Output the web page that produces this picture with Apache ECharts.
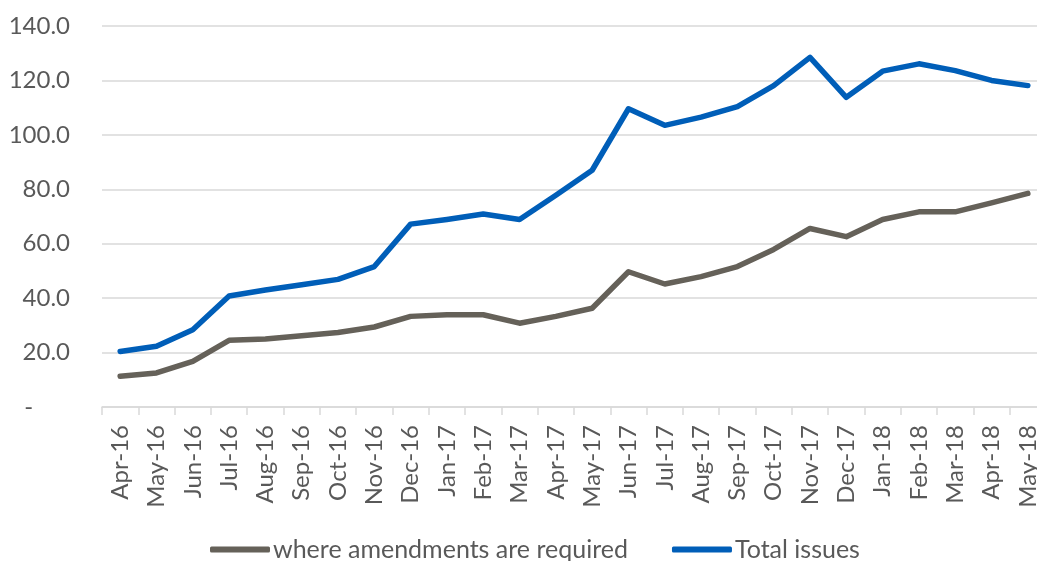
<!DOCTYPE html>
<html>
<head>
<meta charset="utf-8">
<script src="https://cdn.jsdelivr.net/npm/echarts@6/dist/echarts.min.js"></script>
<style>html,body{margin:0;padding:0;background:#fff;overflow:hidden;width:1037px;height:561px}#c{width:1046px;height:561px}</style>
</head>
<body>
<div id="c"></div>
<script>
const categories = ['Apr-16','May-16','Jun-16','Jul-16','Aug-16','Sep-16','Oct-16','Nov-16','Dec-16','Jan-17','Feb-17','Mar-17','Apr-17','May-17','Jun-17','Jul-17','Aug-17','Sep-17','Oct-17','Nov-17','Dec-17','Jan-18','Feb-18','Mar-18','Apr-18','May-18'];
const amendments = [11.3,12.5,16.8,24.5,25.0,26.2,27.4,29.4,33.3,33.9,33.9,30.8,33.3,36.3,49.7,45.2,47.9,51.6,57.9,65.6,62.6,68.9,71.7,71.7,75.0,78.5];
const totalIssues = [20.4,22.3,28.4,40.8,43.0,44.9,46.9,51.6,67.2,68.9,70.9,68.9,77.8,87.0,109.6,103.5,106.5,110.4,118.1,128.5,113.8,123.4,126.1,123.6,120.0,118.1];
const seriesNames = ['where amendments are required','Total issues'];

const FONT = 'Lato';
const chart = echarts.init(document.getElementById('c'));
chart.setOption({
  animation: false,
  textStyle: {fontFamily: FONT},
  grid: {left: 102, top: 26, right: 0, bottom: 154, containLabel: false},
  legend: {
    top: 532,
    left: 205,
    itemWidth: 60,
    itemHeight: 6,
    itemGap: 44,
    icon: 'roundRect',
    textStyle: {color: '#595959', fontSize: 25, fontFamily: FONT, padding: [0,0,0,-2]},
    data: seriesNames
  },
  xAxis: {
    type: 'category',
    data: categories,
    boundaryGap: true,
    axisLine: {lineStyle: {color: '#d9d9d9', width: 1.5}},
    axisTick: {show: true, length: 8, lineStyle: {color: '#d9d9d9', width: 1.5}},
    axisLabel: {rotate: 90, interval: 0, margin: 18, color: '#595959', fontSize: 24, fontFamily: FONT}
  },
  yAxis: {
    type: 'value',
    min: 0, max: 140, interval: 20,
    axisLine: {show: false},
    axisTick: {show: false},
    splitLine: {lineStyle: {color: '#d9d9d9', width: 1.5}},
    axisLabel: {
      margin: 32, color: '#595959', fontSize: 24, fontFamily: FONT,
      formatter: v => v === 0 ? '-      ' : v.toFixed(1)
    }
  },
  series: [
    {name: seriesNames[0], type: 'line', data: amendments, showSymbol: false, symbol: 'none',
     lineStyle: {color: '#656159', width: 5.5, cap: 'round', join: 'round'}, itemStyle: {color: '#656159'}},
    {name: seriesNames[1], type: 'line', data: totalIssues, showSymbol: false, symbol: 'none',
     lineStyle: {color: '#005EB8', width: 5.5, cap: 'round', join: 'round'}, itemStyle: {color: '#005EB8'}}
  ]
});
</script>
</body>
</html>
